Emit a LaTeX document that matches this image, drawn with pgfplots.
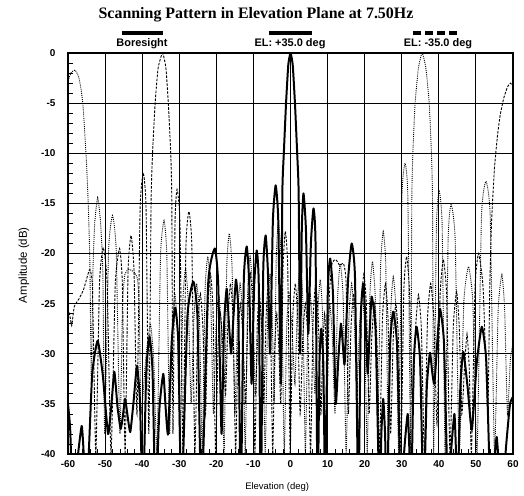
\documentclass[border=0pt]{standalone}
\usepackage{fontspec}
\setmainfont{Liberation Sans}
\newfontfamily\titlefont{Liberation Serif}
\usepackage{pgfplots}
\pgfplotsset{compat=1.18}
\begin{document}
\begin{tikzpicture}
\useasboundingbox (-68bp,-42bp) rectangle (456bp,454bp);
\begin{axis}[
  at={(0,0)}, anchor=south west,
  scale only axis, width=445bp, height=401bp,
  xmin=-60, xmax=60, ymin=-40, ymax=0,
  xtick={-60,-50,...,60}, ytick={-40,-35,...,0},
  minor x tick num=4, minor y tick num=4,
  tick align=inside, tick pos=left,
  major tick length=0pt, minor tick length=5bp,
  grid=major,
  major grid style={black, line width=1.1pt},
  axis line style={black, line width=1.1pt},
  every tick/.style={black, line width=0.8pt},
  /pgf/number format/assume math mode=true,
  tick label style={font=\bfseries\fontsize{10}{12}\selectfont},
  yticklabel style={xshift=-9bp},
  xticklabel style={yshift=-3bp},
  xlabel={Elevation (deg)}, ylabel={Amplitude (dB)},
  xlabel style={at={(axis description cs:0.47,-0.0835)}, anchor=center, font=\fontsize{9.5}{11}\selectfont},
  ylabel style={at={(axis description cs:-0.099,0.471)}, anchor=center, font=\fontsize{11.5}{13}\selectfont},
  clip=true,
]
% EL: +35.0 deg
\addplot[black, line width=0.9pt, smooth, tension=0.3, dash pattern=on 1pt off 1.1pt] coordinates {
(-60,-2.8) (-59.2,-2.0) (-58.1,-1.7) (-57.1,-2.4) (-56.4,-3.8) (-55.9,-5.5) (-55.4,-8.5) (-55.0,-11.0) (-54.5,-15.5) (-54.1,-21) (-53.7,-33)
(-53.3,-22) (-52.8,-17) (-52.0,-14.4) (-51.2,-17) (-50.6,-22) (-50.1,-38)
(-49.05,-19.7) (-48.0,-16.2) (-47.0,-19.7) (-46.0,-38)
(-45.3,-25) (-44.6,-22.0) (-43.5,-21.6) (-42.3,-21.8) (-41.3,-22.5) (-40.8,-25) (-40.3,-36)
(-39.05,-30.5) (-37.8,-27) (-36.9,-30.5) (-36.0,-40)
(-35.05,-20.2) (-34.1,-16.7) (-33.35,-20.2) (-32.6,-38)
(-31.9,-27.5) (-31.2,-24) (-30.5,-27.5) (-29.8,-40)
(-29.05,-25) (-28.3,-21.5) (-27.55,-25) (-26.8,-35)
(-26.05,-26.5) (-25.3,-23) (-24.55,-26.5) (-23.8,-40)
(-23.05,-23.8) (-22.3,-20.3) (-21.55,-23.8) (-20.8,-36)
(-20.1,-27.5) (-19.4,-24) (-18.65,-27.5) (-17.9,-40)
(-17.2,-21.5) (-16.5,-18.0) (-15.75,-21.5) (-15.0,-36)
(-14.3,-26.5) (-13.6,-23) (-12.9,-26.5) (-12.2,-40)
(-11.55,-23.8) (-10.9,-20.3) (-10.2,-23.8) (-9.5,-34)
(-8.85,-28.5) (-8.2,-25) (-7.5,-28.5) (-6.8,-40)
(-6.15,-25.5) (-5.5,-22) (-4.95,-25.5) (-4.4,-35)
(-3.85,-20.5) (-3.3,-17.0) (-2.5,-20.5) (-1.7,-40)
(-1.05,-27.5) (-0.4,-24) (0.4,-27.5) (1.2,-33)
(1.9,-24.5) (2.6,-21) (3.3,-24.5) (4.0,-40)
(4.65,-27.5) (5.3,-24) (5.95,-27.5) (6.6,-34)
(7.3,-26.1) (8.0,-22.6) (8.65,-26.1) (9.3,-40)
(9.95,-28.5) (10.6,-25) (11.3,-28.5) (12.0,-36)
(12.7,-24.5) (13.4,-21.0) (14.2,-24.5) (15.0,-40)
(15.75,-26.5) (16.5,-23) (17.2,-26.5) (17.9,-34)
(18.6,-27.5) (19.3,-24) (20.0,-27.5) (20.7,-40)
(21.4,-24.3) (22.1,-20.8) (22.85,-24.3) (23.6,-36)
(24.3,-21.3) (25.0,-17.8) (25.7,-21.3) (26.4,-40)
(27.05,-25.8) (27.7,-22.3) (28.45,-25.8) (29.2,-40)
(30.05,-14.5) (30.9,-11.0) (31.65,-14.5) (32.4,-40)
(32.7,-15) (33.0,-10) (33.6,-5) (34.5,-1.5) (35.5,0) (36.5,-1.5) (37.4,-5) (38.0,-10) (38.3,-15) (38.6,-40)
(39.35,-17.3) (40.1,-13.8) (40.9,-17.3) (41.7,-40)
(42.5,-18.6) (43.3,-15.1) (44.4,-18.6) (45.5,-40)
(46.75,-24.8) (48.0,-21.3) (49.15,-24.8) (50.3,-40)
(51.5,-16.3) (52.7,-12.8) (53.85,-16.3) (55.0,-40)
(56.0,-25.6) (57.0,-22.1) (57.75,-25.6) (58.5,-36)
(59.3,-30.5) (60,-29.0)
};
% EL: -35.0 deg
\addplot[black, line width=0.9pt, smooth, tension=0.3, dash pattern=on 2.6pt off 1.4pt] coordinates {
(-60,-25.5) (-59.5,-26.2) (-59.0,-27.2) (-58.3,-25.3) (-57.0,-24.5) (-55.8,-23.6) (-54.8,-22.3) (-54.1,-21.6) (-53.4,-23.5) (-52.5,-40)
(-51.5,-22.9) (-50.5,-19.4) (-49.45,-22.9) (-48.4,-40)
(-47.25,-23.0) (-46.1,-19.5) (-45.35,-23.0) (-44.6,-40)
(-43.8,-21.7) (-43.0,-18.2) (-42.2,-21.7) (-41.4,-36)
(-40.55,-15.5) (-39.7,-12.0) (-38.95,-15.5) (-38.2,-38)
(-37.6,-15) (-37.2,-10) (-36.5,-5) (-35.7,-1.5) (-34.5,0) (-33.6,-1.5) (-32.95,-5) (-32.3,-10) (-32.0,-15) (-31.7,-38)
(-31.15,-17.1) (-30.6,-13.6) (-29.8,-17.1) (-29.0,-40)
(-28.2,-19.3) (-27.4,-15.8) (-26.6,-19.3) (-25.8,-40)
(-25.05,-27.5) (-24.3,-24) (-23.6,-27.5) (-22.9,-36)
(-22.25,-25.5) (-21.6,-22) (-20.9,-25.5) (-20.2,-40)
(-19.55,-29.5) (-18.9,-26) (-18.2,-29.5) (-17.5,-34)
(-16.85,-26.5) (-16.2,-23) (-15.5,-26.5) (-14.8,-40)
(-14.15,-28.5) (-13.5,-25) (-12.8,-28.5) (-12.1,-35)
(-11.45,-25.5) (-10.8,-22) (-10.2,-25.5) (-9.6,-40)
(-9.0,-27.5) (-8.4,-24) (-7.8,-27.5) (-7.2,-35)
(-6.6,-26.5) (-6.0,-23) (-5.4,-26.5) (-4.8,-40)
(-4.25,-29.5) (-3.7,-26) (-3.15,-29.5) (-2.6,-35)
(-2.0,-21.3) (-1.4,-17.8) (-0.75,-21.3) (-0.1,-40)
(0.6,-26.5) (1.3,-23) (1.95,-26.5) (2.6,-36)
(3.3,-28.5) (4.0,-25) (4.7,-28.5) (5.4,-40)
(6.1,-26.5) (6.8,-23) (7.5,-26.5) (8.2,-36)
(8.7,-29.5) (9.2,-26) (9.6,-29.0) (10.0,-33)
(10.5,-24) (11.2,-21.0) (12.2,-20.6) (13.3,-21.2) (14.3,-21.0) (15.0,-23) (15.6,-36)
(16.3,-27.5) (17.0,-24) (17.7,-27.5) (18.4,-40)
(19.1,-25.5) (19.8,-22) (20.5,-25.5) (21.2,-36)
(21.9,-28.5) (22.6,-25) (23.3,-28.5) (24.0,-40)
(24.8,-26.5) (25.6,-23) (26.3,-26.5) (27.0,-38)
(27.7,-28.5) (28.4,-25) (29.1,-28.5) (29.8,-40)
(30.55,-23.8) (31.3,-20.3) (32.1,-23.8) (32.9,-36)
(33.7,-27.6) (34.5,-24.1) (35.3,-27.6) (36.1,-40)
(36.95,-26.5) (37.8,-23) (38.65,-26.5) (39.5,-37)
(40.35,-24.1) (41.2,-20.6) (42.1,-24.1) (43.0,-40)
(43.9,-27.3) (44.8,-23.8) (45.5,-27.3) (46.2,-36)
(46.9,-31.5) (47.6,-28) (48.2,-31.5) (48.8,-40)
(49.75,-23.5) (50.7,-20.0) (51.95,-23.5) (53.2,-36)
(53.7,-24) (54.2,-17) (55.0,-11.5) (55.8,-8.3) (56.5,-6.3) (57.5,-4.5) (58.5,-3.4) (59.3,-3.0) (60,-3.3)
};
% Boresight
\addplot[black, line width=2pt, smooth, tension=0.3, line join=round] coordinates {
(-60,-35.0) (-59.4,-37.6) (-58.7,-45)
(-57.5,-40.7) (-56.3,-37.2) (-55.65,-40.7) (-55.0,-45)
(-53.5,-32.2) (-52.0,-28.7) (-50.6,-32.2) (-49.2,-38.0)
(-48.35,-35.3) (-47.5,-31.8) (-46.65,-35.3) (-45.8,-37.5)
(-45.2,-36.2) (-44.6,-34.5) (-43.9,-36.3) (-43.2,-37.8)
(-42.3,-34.7) (-41.4,-31.2) (-40.6,-34.7) (-39.8,-45)
(-38.9,-31.8) (-38.0,-28.3) (-37.2,-31.8) (-36.4,-45)
(-35.35,-35.5) (-34.3,-32.0) (-33.65,-35.5) (-33.0,-38)
(-32.05,-28.9) (-31.1,-25.4) (-30.25,-28.9) (-29.4,-45)
(-27.8,-26.3) (-26.2,-22.8) (-25.1,-26.3) (-24.0,-45)
(-22.2,-23.0) (-20.4,-19.5) (-19.5,-23.0) (-18.6,-38)
(-17.9,-27.0) (-17.2,-23.5) (-16.6,-27.0) (-16.0,-30)
(-15.35,-26.1) (-14.7,-22.6) (-14.05,-26.1) (-13.4,-45)
(-12.6,-22.8) (-11.8,-19.3) (-11.15,-22.8) (-10.5,-33)
(-9.8,-23.2) (-9.1,-19.7) (-8.55,-23.2) (-8.0,-45)
(-7.35,-21.7) (-6.7,-18.2) (-6.1,-21.7) (-5.5,-30)
(-4.75,-16.7) (-4.0,-13.2) (-3.3,-16.7) (-2.6,-33)
(-2.2,-14) (-1.8,-10) (-1.2,-5) (-0.6,-1.2) (0,0) (0.6,-1.2) (1.2,-5) (1.8,-10) (2.2,-14) (2.6,-30)
(3.05,-17.5) (3.5,-14.0) (4.15,-17.5) (4.8,-28)
(5.5,-19.0) (6.2,-15.5) (6.75,-19.0) (7.3,-45)
(7.8,-31.0) (8.3,-27.5) (8.85,-31.0) (9.4,-45)
(10.05,-24.0) (10.7,-20.5) (11.45,-24.0) (12.2,-35)
(12.9,-30.5) (13.6,-27.0) (14.1,-29.0) (14.6,-31)
(15.55,-22.5) (16.5,-19.0) (17.4,-22.5) (18.3,-45)
(18.95,-26.5) (19.6,-23.0) (20.2,-26.5) (20.8,-32)
(21.35,-27.8) (21.9,-24.3) (22.95,-27.8) (24.0,-45)
(24.5,-38.0) (25.0,-34.5) (25.5,-38.0) (26.0,-45)
(26.85,-29.3) (27.7,-25.8) (28.75,-29.3) (29.8,-45)
(30.7,-39.5) (31.6,-36.0) (32.05,-39.5) (32.5,-45)
(33.25,-30.8) (34.0,-27.3) (34.95,-30.8) (35.9,-45)
(36.75,-33.4) (37.6,-29.9) (38.2,-31.8) (38.8,-33)
(39.55,-29.0) (40.3,-25.5) (41.4,-29.0) (42.5,-45)
(43.35,-39.5) (44.2,-36.0) (44.6,-39.5) (45.0,-45)
(45.8,-33.3) (46.6,-29.8) (47.75,-33.3) (48.9,-37.6)
(50.25,-30.8) (51.6,-27.3) (52.8,-30.8) (54.0,-45)
(54.8,-41.5) (55.6,-38.3) (56.2,-41.5) (56.8,-45)
(58.3,-38.5) (59.2,-35.0) (60,-34.3)
};
\end{axis}
% title and legend above the plot area
\node[font={\titlefont\bfseries\fontsize{16}{19}\selectfont}] at (188bp,439bp) {Scanning Pattern in Elevation Plane at 7.50Hz};
\draw[line width=4bp] (54bp,421bp) -- (95bp,421bp);
\node[font=\bfseries\fontsize{11}{13}\selectfont] at (74bp,410.5bp) {Boresight};
\draw[line width=4bp] (201bp,421bp) -- (244bp,421bp);
\node[font=\bfseries\fontsize{11}{13}\selectfont] at (222bp,410.5bp) {EL: +35.0 deg};
\draw[line width=4bp, dash pattern=on 8bp off 4bp] (345bp,421bp) -- (389bp,421bp);
\node[font=\bfseries\fontsize{11}{13}\selectfont] at (370bp,410.5bp) {EL: -35.0 deg};
\end{tikzpicture}
\end{document}
